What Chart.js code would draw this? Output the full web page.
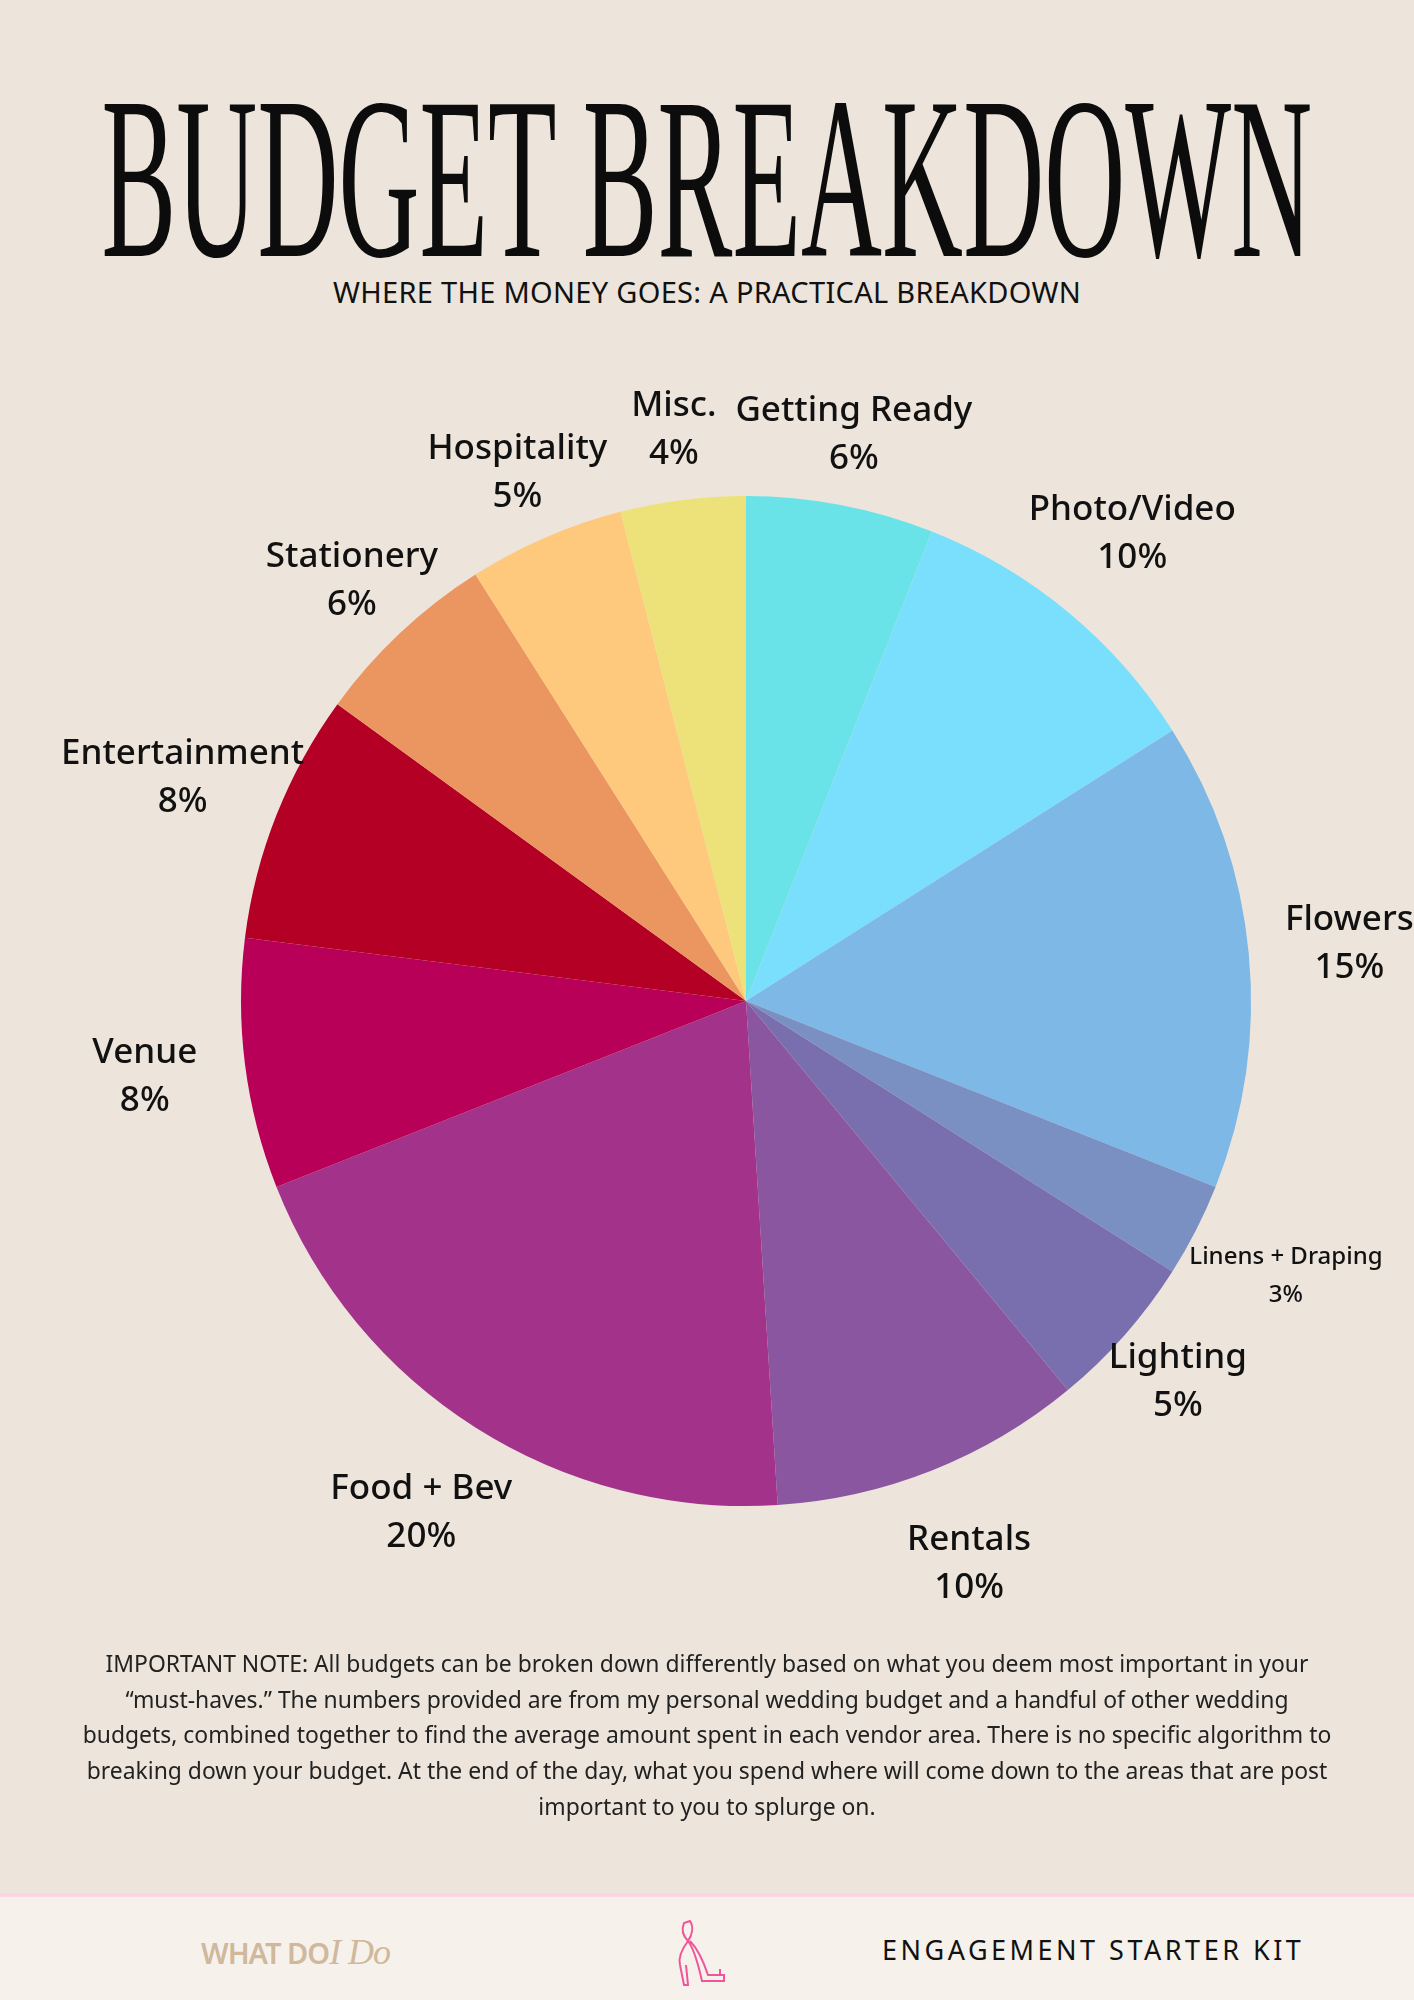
<!DOCTYPE html>
<html>
<head>
<meta charset="utf-8">
<script src="https://cdn.jsdelivr.net/npm/chart.js@4"></script>
<style>
  html, body { margin: 0; padding: 0; }
  body { width: 1414px; height: 2000px; background: #ede5db; position: relative; overflow: hidden; font-family: 'Noto Sans', sans-serif; color: #111; }
  #titletext { position: absolute; left: 707px; top: 62px; white-space: nowrap; font-family: 'Liberation Serif', serif; font-size: 232px; line-height: 232px; transform-origin: 0 0; color: #0c0c0c; }
  #subtitle { position: absolute; top: 272px; width: 1414px; text-align: center; font-size: 29px; letter-spacing: 0.3px; }
  #wrap { position: absolute; left: 0; top: 330px; width: 1414px; height: 1342px; }
  #note { position: absolute; left: 82px; top: 1646px; width: 1250px; text-align: center; font-size: 22.9px; line-height: 35.7px; color: #222; }
  #footer { position: absolute; left: 0; top: 1893px; width: 1414px; height: 107px; background: #f6f2eb; border-top: 4px solid #fcd5e5; }
  #brand { position: absolute; left: 201px; top: 34px; font-size: 29px; color: #cfb89c; font-weight: 600; letter-spacing: -1px; }
  #brand i { font-family: 'Liberation Serif', serif; font-weight: 400; font-size: 36px; }
  #kit { position: absolute; left: 882px; top: 34px; font-size: 27px; letter-spacing: 3.5px; color: #111; }
  #shoe { position: absolute; left: 664px; top: 22px; }
</style>
</head>
<body>
<div id="titletext">BUDGET BREAKDOWN</div>
<div id="subtitle">WHERE THE MONEY GOES: A PRACTICAL BREAKDOWN</div>
<div id="wrap"><canvas id="pie"></canvas></div>
<div id="note">IMPORTANT NOTE: All budgets can be broken down differently based on what you deem most important in your “must-haves.” The numbers provided are from my personal wedding budget and a handful of other wedding budgets, combined together to find the average amount spent in each vendor area. There is no specific algorithm to breaking down your budget. At the end of the day, what you spend where will come down to the areas that are post important to you to splurge on.</div>
<div id="footer">
  <div id="brand">WHAT DO<i>I Do</i></div>
  <svg id="shoe" width="90" height="70" viewBox="0 0 90 70" fill="none" stroke="#f0559b" stroke-width="2">
    <path d="M20 4 C16 14 22 20 24 22 C28 16 30 8 26 2 Z"/>
    <path d="M24 22 C18 30 14 38 16 46 M24 22 C30 30 34 44 38 62 L60 62 L60 56 L44 56 C40 44 34 30 26 22"/>
    <path d="M16 46 L20 66 L24 66 L22 46"/>
    <path d="M56 50 L56 56"/>
  </svg>
  <div id="kit">ENGAGEMENT STARTER KIT</div>
</div>
<script>
// DATA
const categories = ['Getting Ready', 'Photo/Video', 'Flowers', 'Linens + Draping', 'Lighting', 'Rentals',
    'Food + Bev', 'Venue', 'Entertainment', 'Stationery', 'Hospitality', 'Misc.'];
const percents = [6, 10, 15, 3, 5, 10, 20, 8, 8, 6, 5, 4];
const colors = ['#6ae3e8', '#7adffc', '#7db8e6', '#7b90c2', '#7a6fae', '#8b56a0',
    '#a3338a', '#b90059', '#b30024', '#eb9660', '#fec97c', '#ede27a'];

// fit title to the reference width (condensed look)
const tt = document.getElementById('titletext');
const s = 1211 / tt.offsetWidth;
tt.style.transform = 'translateX(-605.5px) scaleX(' + s + ')';

// outside labels at mid-angle of each slice
const outsideLabels = {
    id: 'outsideLabels',
    afterDatasetsDraw(chart) {
        const ctx = chart.ctx;
        const meta = chart.getDatasetMeta(0);
        ctx.save();
        ctx.fillStyle = '#111';
        ctx.textAlign = 'center';
        ctx.textBaseline = 'middle';
        meta.data.forEach((arc, i) => {
            const mid = (arc.startAngle + arc.endAngle) / 2;
            const r = arc.outerRadius * (percents[i] <= 6 && i !== 3 ? 1.14 : 1.2);
            const x = arc.x + Math.cos(mid) * r;
            const y = arc.y + Math.sin(mid) * r;
            const small = percents[i] < 4;
            const size = small ? 24 : 35;
            const gap = small ? 19 : 24;
            ctx.font = '500 ' + size + 'px "Noto Sans"';
            ctx.fillText(categories[i], x, y - gap);
            ctx.fillText(percents[i] + '%', x, y + gap);
        });
        ctx.restore();
    }
};

new Chart(document.getElementById('pie'), {
    type: 'pie',
    data: {
        labels: categories,
        datasets: [{ data: percents, backgroundColor: colors, borderWidth: 0 }]
    },
    options: {
        responsive: true,
        maintainAspectRatio: false,
        animation: false,
        layout: { padding: { left: 241, right: 163, top: 166, bottom: 166 } },
        plugins: { legend: { display: false }, tooltip: { enabled: false } }
    },
    plugins: [outsideLabels]
});
</script>
</body>
</html>
